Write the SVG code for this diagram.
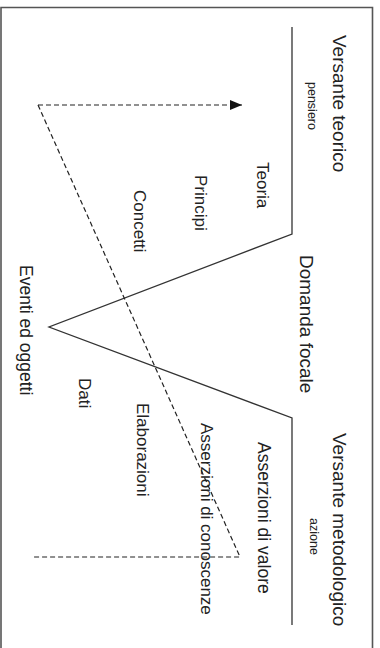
<svg xmlns="http://www.w3.org/2000/svg" width="380" height="648" viewBox="0 0 380 648">
  <style>
    text { font-family: "Liberation Sans", Arial, sans-serif; fill: #222; }
    .title { font-size: 19px; }
    .lbl { font-size: 17px; }
    .small { font-size: 12.5px; }
    .solid { fill: none; stroke: #333; stroke-width: 1.3; }
    .dash { fill: none; stroke: #222; stroke-width: 1.2; stroke-dasharray: 5,3; }
  </style>
  <defs>
    <marker id="arrow" viewBox="0 0 12 10" refX="12" refY="5" markerWidth="12" markerHeight="10" markerUnits="userSpaceOnUse" orient="auto">
      <path d="M0,0 L12,5 L0,10 Z" fill="#111"/>
    </marker>
  </defs>
  <rect x="0" y="0" width="380" height="648" fill="#fff"/>
  <path d="M1,652 L1,7.5 L372.5,7.5 L372.5,652" fill="none" stroke="#555" stroke-width="1.6"/>

  <g id="connectors">
    <path class="solid" d="M292,27 L292,234 L49,327 L292,418 L292,625"/>
    <path class="dash" d="M38,105 L242,105" marker-end="url(#arrow)"/>
    <path class="dash" d="M38,105 L240,557 L32,557"/>
  </g>

  <g id="versante-teorico"><text class="title" transform="translate(333,35) rotate(90)">Versante teorico</text></g>
  <g id="pensiero"><text class="small" transform="translate(308,82) rotate(90)">pensiero</text></g>
  <g id="teoria"><text class="lbl" transform="translate(257,162) rotate(90)">Teoria</text></g>
  <g id="principi"><text class="lbl" transform="translate(195,175) rotate(90)">Principi</text></g>
  <g id="concetti"><text class="lbl" transform="translate(134,190) rotate(90)">Concetti</text></g>
  <g id="domanda-focale"><text class="title" transform="translate(300,255) rotate(90)">Domanda focale</text></g>
  <g id="eventi-oggetti"><text class="lbl" transform="translate(20,265) rotate(90)" style="font-size:17.5px">Eventi ed oggetti</text></g>
  <g id="dati"><text class="lbl" transform="translate(79,378) rotate(90)">Dati</text></g>
  <g id="elaborazioni"><text class="lbl" transform="translate(137,403) rotate(90)">Elaborazioni</text></g>
  <g id="asserzioni-conoscenze"><text class="lbl" transform="translate(201,423) rotate(90)">Asserzioni di conoscenze</text></g>
  <g id="asserzioni-valore"><text class="lbl" transform="translate(258,442) rotate(90)" style="font-size:17.5px">Asserzioni di valore</text></g>
  <g id="versante-metodologico"><text class="title" transform="translate(333,433) rotate(90)">Versante metodologico</text></g>
  <g id="azione"><text class="small" transform="translate(310,518) rotate(90)">azione</text></g>
</svg>
